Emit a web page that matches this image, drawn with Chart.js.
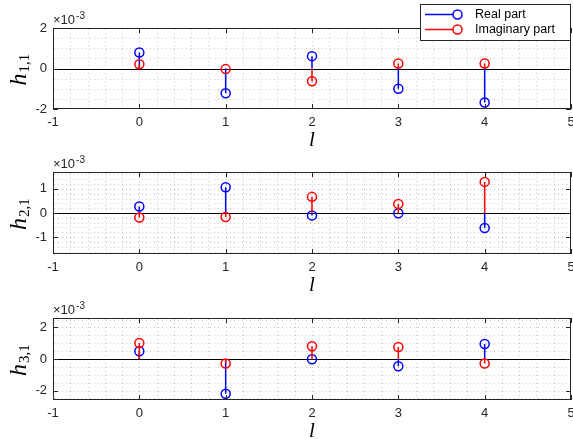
<!DOCTYPE html>
<html><head><meta charset="utf-8">
<script src="https://cdn.jsdelivr.net/npm/chart.js@4.4.0/dist/chart.umd.min.js"></script>
<style>
html,body{margin:0;padding:0;background:#fff;}
#wrap{position:relative;width:573px;height:439px;overflow:hidden;background:#fff;}
canvas{position:absolute;left:0;}
</style></head><body>
<div id="wrap">
<canvas id="c1" width="573" height="146" style="top:0px"></canvas>
<canvas id="c2" width="573" height="146" style="top:145px"></canvas>
<canvas id="c3" width="573" height="148" style="top:291px"></canvas>
</div>
<script>
// ---- data (values in natural units; axes show x10^-3) ----
const lags = [0, 1, 2, 3, 4];
const xTicks = [-1, 0, 1, 2, 3, 4, 5];
const h11Real = [0.79e-3, -1.22e-3, 0.61e-3, -1.00e-3, -1.68e-3];
const h11Imag = [0.21e-3, -0.03e-3, -0.63e-3, 0.25e-3, 0.25e-3];
const h21Real = [0.27e-3, 1.07e-3, -0.10e-3, -0.01e-3, -0.62e-3];
const h21Imag = [-0.19e-3, -0.165e-3, 0.67e-3, 0.37e-3, 1.29e-3];
const h31Real = [0.49e-3, -2.20e-3, -0.02e-3, -0.46e-3, 0.95e-3];
const h31Imag = [1.02e-3, -0.29e-3, 0.81e-3, 0.76e-3, -0.29e-3];
const h11Ticks = [-2e-3, 0, 2e-3];
const h21Ticks = [-1e-3, 0, 1e-3];
const h31Ticks = [-2e-3, 0, 2e-3];
const seriesLabels = ['Real part', 'Imaginary part'];
const yLabelSubs = ['1,1', '2,1', '3,1'];
const xLabel = 'l';

const BLUE = '#0000ff', RED = '#ff0000', AX = '#262626';
const SANS = '"Liberation Sans", Arial, Helvetica, sans-serif';
const SERIF = '"Liberation Serif", "Times New Roman", serif';

const panels = [
  {id:'c1', real:h11Real, imag:h11Imag, ticks:h11Ticks, ymin:-2e-3, ymax:2e-3, minor:0.5e-3, sub:yLabelSubs[0], top:28, bottom:109, legend:true},
  {id:'c2', real:h21Real, imag:h21Imag, ticks:h21Ticks, ymin:-1.7e-3, ymax:1.7e-3, minor:0.2e-3, sub:yLabelSubs[1], top:27, bottom:109, legend:false},
  {id:'c3', real:h31Real, imag:h31Imag, ticks:h31Ticks, ymin:-2.6e-3, ymax:2.6e-3, minor:0.5e-3, sub:yLabelSubs[2], top:27, bottom:109, legend:false}
];

function stemData(xs, vs){
  const d = [];
  xs.forEach((x,i)=>{ d.push({x:x,y:0}); d.push({x:x,y:vs[i]}); d.push({x:x,y:null}); });
  return d;
}

function seg(ctx, x1,y1,x2,y2){
  ctx.beginPath(); ctx.moveTo(x1,y1); ctx.lineTo(x2,y2); ctx.stroke();
}

const matlabPlugin = {
  id:'matlab',
  beforeDatasetsDraw(chart, args, opts){
    const ctx = chart.ctx, a = chart.chartArea, xs = chart.scales.x, ys = chart.scales.y;
    const p = opts.panel;
    ctx.save();
    ctx.lineWidth = 1;
    ctx.setLineDash([1,3]);
    ctx.strokeStyle = 'rgba(38,38,38,0.24)';
    for(let k=1;k<30;k++){
      const v = -1 + k*0.2;
      const px = Math.round(xs.getPixelForValue(v))+0.5;
      seg(ctx, px, a.top+1, px, a.bottom-1);
    }
    const k0 = Math.ceil(p.ymin/p.minor - 1e-9), k1 = Math.floor(p.ymax/p.minor + 1e-9);
    for(let k=k0;k<=k1;k++){
      const v = k*p.minor;
      const py = Math.round(ys.getPixelForValue(v))+0.5;
      if(py<=a.top+1 || py>=a.bottom-1) continue;
      seg(ctx, a.left+1, py, a.right-1, py);
    }
    ctx.setLineDash([]);
    ctx.strokeStyle = '#000';
    const py0 = Math.round(ys.getPixelForValue(0))+0.5;
    seg(ctx, a.left, py0, a.right, py0);
    ctx.restore();
  },
  afterDatasetsDraw(chart, args, opts){
    const ctx = chart.ctx, a = chart.chartArea, xs = chart.scales.x, ys = chart.scales.y;
    const p = opts.panel;
    ctx.save();
    ctx.strokeStyle = AX; ctx.lineWidth = 1;
    ctx.strokeRect(a.left+0.5, a.top+0.5, a.right-a.left-1, a.bottom-a.top-1);
    const TL = 5;
    xTicks.forEach(v=>{
      const px = Math.round(xs.getPixelForValue(v))+0.5;
      seg(ctx, px, a.bottom, px, a.bottom-TL);
      seg(ctx, px, a.top, px, a.top+TL);
    });
    p.ticks.forEach(v=>{
      const py = Math.round(ys.getPixelForValue(v))+0.5;
      seg(ctx, a.left, py, a.left+TL, py);
      seg(ctx, a.right, py, a.right-TL, py);
    });
    // exponent label
    ctx.fillStyle = AX;
    ctx.textBaseline = 'alphabetic'; ctx.textAlign = 'left';
    ctx.font = '13px ' + SANS;
    const ex = a.left + 0, ey = a.top - 4;
    ctx.fillText('\u00d710', ex, ey);
    const w10 = ctx.measureText('\u00d710').width;
    ctx.font = '10px ' + SANS;
    ctx.fillText('-3', ex + w10 + 1, ey - 5);
    // y label h_{i,1}
    ctx.fillStyle = '#000';
    const cy = (a.top + a.bottom)/2 + 1;
    ctx.translate(26, cy);
    ctx.rotate(-Math.PI/2);
    ctx.font = 'italic 24px ' + SERIF;
    const wh = ctx.measureText('h').width;
    ctx.font = '15px ' + SERIF;
    const ws = ctx.measureText(p.sub).width;
    const tot = wh + ws + 1;
    ctx.font = 'italic 24px ' + SERIF;
    ctx.fillText('h', -tot/2, 0);
    ctx.font = '15px ' + SERIF;
    ctx.fillText(p.sub, -tot/2 + wh + 1, 3);
    ctx.restore();
    // x label
    ctx.save();
    ctx.fillStyle = '#000';
    ctx.font = 'italic 21px ' + SERIF;
    ctx.textAlign = 'center'; ctx.textBaseline = 'alphabetic';
    ctx.fillText(xLabel, xs.getPixelForValue(2), a.bottom + 37);
    ctx.restore();
    // legend
    if(p.legend){
      ctx.save();
      const lx = 420.5, ly = 4.5, lw = 150, lh = 36;
      ctx.fillStyle = '#fff';
      ctx.fillRect(lx, ly, lw, lh);
      ctx.strokeStyle = AX; ctx.lineWidth = 1;
      ctx.strokeRect(lx, ly, lw, lh);
      chart.data.datasets.slice().sort((d1,d2)=>d1.legendIndex-d2.legendIndex).forEach((ds,i)=>{
        const yy = 14.5 + i*15;
        ctx.strokeStyle = ds.borderColor; ctx.lineWidth = 1.5;
        ctx.beginPath(); ctx.moveTo(425, yy); ctx.lineTo(453, yy); ctx.stroke();
        ctx.beginPath(); ctx.arc(457.5, yy, 4.5, 0, Math.PI*2); ctx.stroke();
        ctx.fillStyle = '#000';
        ctx.font = '12.5px ' + SANS;
        ctx.textAlign = 'left'; ctx.textBaseline = 'middle';
        ctx.fillText(ds.label, 475, yy);
      });
      ctx.restore();
    }
  }
};

panels.forEach(p=>{
  const canvas = document.getElementById(p.id);
  const H = canvas.height;
  const mk = (label, vals, color, order, li) => ({
    label: label, data: stemData(lags, vals), showLine: true, spanGaps: false,
    borderColor: color, borderWidth: 1.5, backgroundColor: 'rgba(0,0,0,0)',
    pointRadius: ctx => (ctx.dataIndex % 3 === 1 ? 4.5 : 0),
    pointHoverRadius: ctx => (ctx.dataIndex % 3 === 1 ? 4.5 : 0),
    pointBorderColor: color, pointBorderWidth: 1.5, pointBackgroundColor: 'rgba(0,0,0,0)',
    order: order, legendIndex: li
  });
  new Chart(canvas, {
    type: 'scatter',
    data: { datasets: [ mk(seriesLabels[0], p.real, BLUE, 1, 0), mk(seriesLabels[1], p.imag, RED, 0, 1) ] },
    options: {
      responsive: false, animation: false, events: [],
      layout: { padding: { top: p.top, left: 0, right: 2, bottom: 0 } },
      plugins: { legend: { display: false }, tooltip: { enabled: false }, matlab: { panel: p } },
      scales: {
        x: {
          type: 'linear', min: -1, max: 5,
          afterBuildTicks: s => { s.ticks = xTicks.map(v=>({value:v})); },
          afterFit: s => { s.height = H - p.bottom; s.paddingLeft = 0; s.paddingRight = 0; },
          grid: { display: false, drawTicks: false },
          border: { display: false },
          ticks: { color: AX, font: { family: SANS, size: 13 }, padding: 6, maxRotation: 0,
                   callback: v => String(v) }
        },
        y: {
          type: 'linear', min: p.ymin, max: p.ymax,
          afterBuildTicks: s => { s.ticks = p.ticks.map(v=>({value:v})); },
          afterFit: s => { s.width = 53; s.paddingTop = 0; s.paddingBottom = 0; },
          grid: { display: false, drawTicks: false },
          border: { display: false },
          ticks: { color: AX, font: { family: SANS, size: 13 }, padding: 6,
                   callback: v => String(Math.round(v*1e3)) }
        }
      }
    },
    plugins: [matlabPlugin]
  });
});
</script>
</body></html>
